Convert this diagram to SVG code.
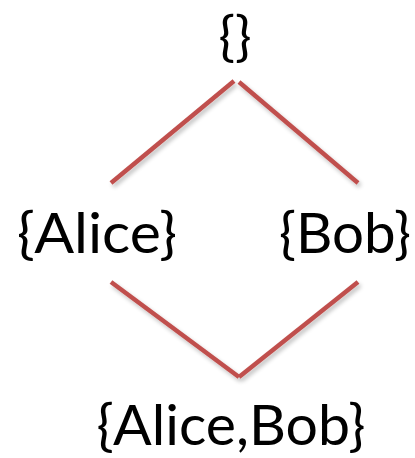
<svg xmlns="http://www.w3.org/2000/svg" width="415" height="458" viewBox="0 0 415 458">
<style>
text{font-family:Lato,"Open Sans",sans-serif;font-size:57px;fill:#000;text-anchor:middle}
.e{stroke:#c0504d;stroke-width:4.5;fill:none}
</style>
<defs>
<filter id="sh" x="-20%" y="-20%" width="140%" height="140%">
<feGaussianBlur in="SourceAlpha" stdDeviation="2"/>
<feOffset dx="2" dy="3" result="b"/>
<feComponentTransfer><feFuncA type="linear" slope="0.25"/></feComponentTransfer>
<feMerge><feMergeNode/><feMergeNode in="SourceGraphic"/></feMerge>
</filter>
</defs>
<rect width="415" height="458" fill="#fff"/>
<g id="connectors" filter="url(#sh)">
<line class="e" x1="234" y1="81" x2="111" y2="183"/>
<line class="e" x1="239" y1="82" x2="358" y2="183"/>
<line class="e" x1="111" y1="282" x2="239" y2="377"/>
<line class="e" x1="239" y1="377" x2="358" y2="282"/>
</g>
<g id="empty"><text x="235" y="55" style="font-size:55px">{}</text></g>
<g id="alice"><text x="97" y="253" textLength="160" lengthAdjust="spacingAndGlyphs">{Alice}</text></g>
<g id="bob"><text x="345" y="253" textLength="132" lengthAdjust="spacingAndGlyphs">{Bob}</text></g>
<g id="alicebob"><text x="231" y="445" textLength="269" lengthAdjust="spacingAndGlyphs">{Alice,Bob}</text></g>
</svg>
